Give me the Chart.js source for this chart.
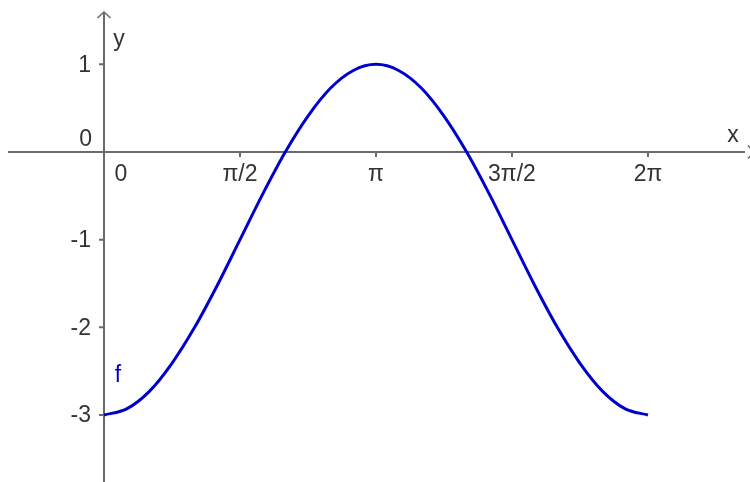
<!DOCTYPE html>
<html><head><meta charset="utf-8">
<script src="https://cdn.jsdelivr.net/npm/chart.js@4.4.0/dist/chart.umd.min.js"></script>
<style>html,body{margin:0;padding:0;background:#fff;}#wrap{width:750px;height:482px;position:relative;}</style>
</head><body><div id="wrap"><canvas id="c" width="750" height="482"></canvas></div>
<script>
const xValues = [0.000,0.262,0.524,0.785,1.047,1.309,1.571,1.833,2.094,2.356,2.618,2.880,3.142,3.403,3.665,3.927,4.189,4.451,4.712,4.974,5.236,5.498,5.760,6.021,6.283];
const fValues = [-3.00,-2.93,-2.73,-2.41,-2.00,-1.52,-1.00,-0.48,0.00,0.41,0.73,0.93,1.00,0.93,0.73,0.41,0.00,-0.48,-1.00,-1.52,-2.00,-2.41,-2.73,-2.93,-3.00];
const xTickValues = [0, 1.5708, 3.1416, 4.7124, 6.2832];
const xTickLabels = ["0", "π/2", "π", "3π/2", "2π"];
const yTickValues = [1, -1, -2, -3];
const yTickLabels = ["1", "-1", "-2", "-3"];

const FONT = '23px "Liberation Sans", Arial, sans-serif';
const AXIS = '#6a6a6a';
const TXT = '#333333';

const axesPlugin = {
  id: 'geoAxes',
  beforeDatasetsDraw(chart) {
    const ctx = chart.ctx, xs = chart.scales.x, ys = chart.scales.y;
    const ox = xs.getPixelForValue(0), oy = ys.getPixelForValue(0);
    ctx.save();
    ctx.strokeStyle = AXIS; ctx.lineWidth = 2;
    ctx.beginPath();
    ctx.moveTo(8, oy); ctx.lineTo(745, oy);
    ctx.moveTo(ox, 12); ctx.lineTo(ox, chart.height);
    ctx.stroke();
    // arrows
    ctx.lineWidth = 1.5;
    ctx.beginPath();
    ctx.moveTo(ox - 6.5, 18); ctx.lineTo(ox, 12); ctx.lineTo(ox + 6.5, 18);
    ctx.moveTo(748, oy - 6.5); ctx.lineTo(754, oy); ctx.lineTo(748, oy + 6.5);
    ctx.stroke();
    // ticks
    ctx.lineWidth = 2;
    ctx.beginPath();
    xTickValues.forEach(v => { if (v !== 0) { const p = xs.getPixelForValue(v); ctx.moveTo(p, oy); ctx.lineTo(p, oy + 5); } });
    yTickValues.forEach(v => { const p = ys.getPixelForValue(v); ctx.moveTo(ox, p); ctx.lineTo(ox - 5, p); });
    ctx.stroke();
    // labels
    ctx.fillStyle = TXT; ctx.font = FONT; ctx.textBaseline = 'middle';
    ctx.textAlign = 'center';
    xTickValues.forEach((v, i) => {
      let p = xs.getPixelForValue(v);
      if (v === 0) p += 17;
      ctx.fillText(xTickLabels[i], p, oy + 23);
    });
    ctx.textAlign = 'right';
    yTickValues.forEach((v, i) => { ctx.fillText(yTickLabels[i], ox - 13, ys.getPixelForValue(v) + 1); });
    ctx.fillText("0", ox - 12, oy - 12);
    ctx.textAlign = 'center';
    ctx.fillText("y", ox + 15, 40);
    ctx.fillText("x", chart.width - 17, oy - 16);
    ctx.fillStyle = '#0000cc';
    ctx.fillText("f", ox + 14, ys.getPixelForValue(-2.55));
    ctx.restore();
  }
};

new Chart(document.getElementById('c'), {
  type: 'line',
  data: {
    datasets: [{
      label: 'f',
      data: xValues.map((x, i) => ({x: x, y: fValues[i]})),
      borderColor: '#0000cc',
      borderWidth: 3,
      pointRadius: 0,
      fill: false,
      cubicInterpolationMode: 'monotone'
    }]
  },
  options: {
    responsive: false,
    animation: false,
    layout: {padding: 0},
    plugins: {legend: {display: false}, tooltip: {enabled: false}},
    scales: {
      x: {type: 'linear', display: false, min: -1.2012, max: 7.4617},
      y: {type: 'linear', display: false, min: -3.764, max: 1.7338}
    }
  },
  plugins: [axesPlugin]
});
</script></body></html>
